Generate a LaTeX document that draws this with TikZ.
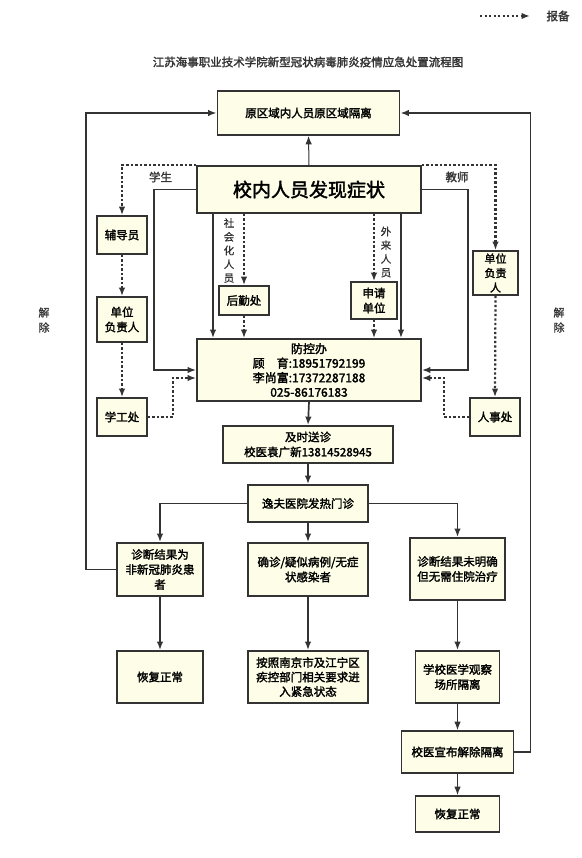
\documentclass[tikz,border=0pt]{standalone}
\usepackage{fontspec}
\setmainfont{Noto Sans CJK SC}[FakeBold=2]
\newfontfamily\lightcjk{Noto Sans CJK SC}[FakeBold=0.8]
\usetikzlibrary{arrows.meta,calc}
\definecolor{ln}{HTML}{333333}
\definecolor{bf}{HTML}{FEFEE8}
\tikzset{
 bx/.style={draw=ln, fill=bf, line width=1.8pt, align=center, inner sep=0pt, font=\fontsize{11.5}{15}\selectfont},
 conn/.style={draw=ln, line width=1.7pt},
 thinl/.style={draw=ln, line width=1pt},
 dotl/.style={draw=ln, line width=2.2pt, dash pattern=on 2.2pt off 2.3pt},
 tip/.style={-{Latex[length=8.5pt,width=6.5pt]}},
 lbl/.style={font=\fontsize{11.5}{15}\selectfont, inner sep=0pt, align=center, text=ln},
 vlbl/.style={font=\lightcjk\fontsize{10.5}{13.7}\selectfont, inner sep=0pt, align=center, text=ln},
}
\begin{document}
\begin{tikzpicture}[x=1pt,y=-1pt]
\useasboundingbox (0,0) rectangle (581,858);
% legend
\coordinate (lgA) at (480,16);
\coordinate (lgB) at (530,16);
\draw[dotl,tip] (lgA) -- (lgB);
\node[lbl] (lgT) at (558,16) {报备};
% title
\node[lbl] (title) at (308,62) {江苏海事职业技术学院新型冠状病毒肺炎疫情应急处置流程图};
% boxes
\node[bx, minimum width=182pt, minimum height=44pt] (yq) at (308.5,113) {原区域内人员原区域隔离};
\node[bx, minimum width=224pt, minimum height=47pt, font=\fontsize{19}{22}\selectfont] (fx) at (309,189.5) {校内人员发现症状};
\node[bx, minimum width=50pt, minimum height=38pt] (fdy) at (122,235) {辅导员};
\node[bx, minimum width=50pt, minimum height=45pt] (dwl) at (122,319.5) {单位\\负责人};
\node[bx, minimum width=50pt, minimum height=38pt] (xgc) at (122,417) {学工处};
\node[bx, minimum width=50pt, minimum height=29pt] (hqc) at (244,300.5) {后勤处};
\node[bx, minimum width=46pt, minimum height=37pt] (sq) at (374,300.5) {申请\\单位};
\node[bx, minimum width=45pt, minimum height=44pt, font=\fontsize{11}{14.5}\selectfont] (dwr) at (495.5,273) {单位\\负责\\人};
\node[bx, minimum width=50pt, minimum height=38pt] (rsc) at (495,417) {人事处};
\node[bx, minimum width=224pt, minimum height=62pt, font=\fontsize{12}{14.5}\selectfont] (fkb) at (309,370) {防控办\\顾\hspace{1em}育:18951792199\\李尚富:17372287188\\025-86176183};
\node[bx, minimum width=170pt, minimum height=37pt] (js) at (308,444.5) {及时送诊\\校医袁广新13814528945};
\node[bx, minimum width=120pt, minimum height=37pt] (yf) at (308,503.5) {逸夫医院发热门诊};
\node[bx, minimum width=86pt, minimum height=53pt] (d1) at (160,569.5) {诊断结果为\\非新冠肺炎患\\者};
\node[bx, minimum width=120pt, minimum height=53pt] (d2) at (308,569.5) {确诊/疑似病例/无症\\状感染者};
\node[bx, minimum width=95pt, minimum height=62pt] (d3) at (457.5,569) {诊断结果未明确\\但无需住院治疗};
\node[bx, minimum width=86pt, minimum height=52pt] (e1) at (160,677) {恢复正常};
\node[bx, minimum width=120pt, minimum height=52pt, font=\fontsize{11.5}{14.5}\selectfont] (e2) at (308,677) {按照南京市及江宁区\\疾控部门相关要求进\\入紧急状态};
\node[bx, minimum width=84pt, minimum height=52pt] (e3) at (457.5,677) {学校医学观察\\场所隔离};
\node[bx, minimum width=112pt, minimum height=42pt] (f) at (457.5,752) {校医宣布解除隔离};
\node[bx, minimum width=84pt, minimum height=36pt] (g) at (457.5,814) {恢复正常};
% labels
\node[lbl] (xs) at (160.5,177) {学生};
\node[lbl] (jsl) at (457,177) {教师};
\node[vlbl] (shh) at (229,250.5) {社\\会\\化\\人\\员};
\node[vlbl] (wl) at (386,252) {外\\来\\人\\员};
\node[vlbl, font=\lightcjk\fontsize{11}{15}\selectfont] (jcL) at (44,320) {解\\除};
\node[vlbl, font=\lightcjk\fontsize{11}{15}\selectfont] (jcR) at (559,320) {解\\除};
% connectors
\coordinate (xa) at (213,0);
\coordinate (xb) at (401,0);
\draw[thinl,tip] (fx.north) -- (yq.south);
\draw[dotl,tip] (fx.north west) -| (fdy.north);
\draw[dotl,tip] (fx.north east) -| (dwr.north);
\draw[conn,tip] (fx.west) -- ++(-42,0) |- (fkb.west);
\draw[conn,tip] (fx.east) -- ++(46,0) |- (fkb.east);
\draw[conn,tip] (fx.south -| xa) -- (fkb.north -| xa);
\draw[conn,tip] (fx.south -| xb) -- (fkb.north -| xb);
\draw[dotl,tip] (fx.south -| hqc) -- (hqc.north);
\draw[dotl,tip] (hqc.south) -- (fkb.north -| hqc);
\draw[dotl,tip] (fx.south -| sq) -- (sq.north);
\draw[dotl,tip] (sq.south) -- (fkb.north -| sq);
\draw[dotl,tip] (fdy.south) -- (dwl.north);
\draw[dotl,tip] (dwl.south) -- (xgc.north);
\draw[dotl,tip] (dwr.south) -- (rsc.north);
\draw[dotl,tip] (xgc.east) -- ++(25,0) |- ($(fkb.west)+(0,8)$);
\draw[dotl,tip] (rsc.west) -- ++(-25,0) |- ($(fkb.east)+(0,8)$);
\draw[conn,tip] (fkb.south) -- (js.north);
\draw[conn,tip] (js.south) -- (yf.north);
\draw[conn,tip] (yf.west) -| (d1.north);
\draw[conn,tip] (yf.south) -- (d2.north);
\draw[conn,tip] (yf.east) -| (d3.north);
\draw[conn,tip] (d1.south) -- (e1.north);
\draw[conn,tip] (d2.south) -- (e2.north);
\draw[conn,tip] (d3.south) -- (e3.north);
\draw[thinl,tip] (e3.south) -- (f.north);
\draw[thinl,tip] (f.south) -- (g.north);
\draw[conn,tip] (d1.west) -- ++(-30,0) |- (yq.west);
\draw[conn,tip] (f.east) -- ++(16,0) |- (yq.east);
\end{tikzpicture}
\end{document}
